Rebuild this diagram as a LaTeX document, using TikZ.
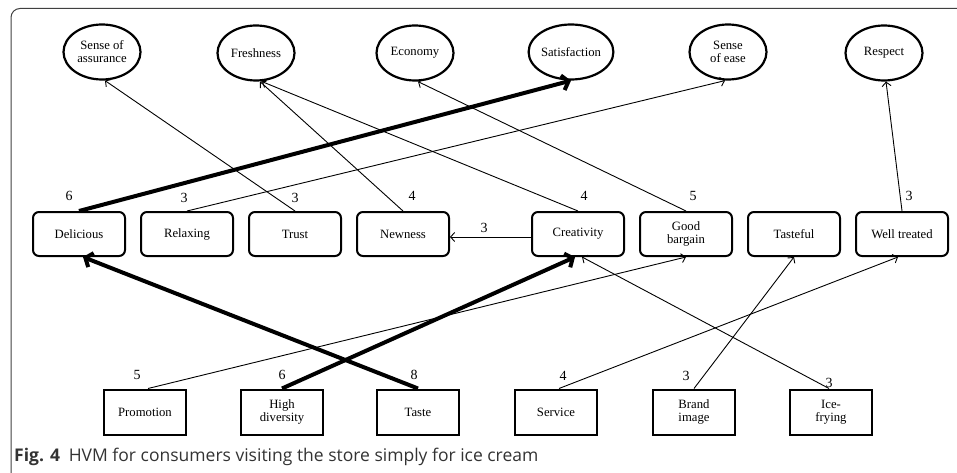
\documentclass[tikz,border=0pt]{standalone}
\usepackage{fontspec}
\setmainfont{Liberation Serif}
\newfontfamily\capfont{Open Sans}
\usepackage{tikz}
\usetikzlibrary{arrows.meta,shapes.geometric,positioning}

\begin{document}
\begin{tikzpicture}[
  x=1pt, y=-1pt,
  every node/.style = {align=center,
    font=\fontsize{12.7}{13}\selectfont},
  value/.style = {ellipse, draw, line width=2.2pt,
    minimum width=77pt, minimum height=55pt, inner sep=0pt},
  conseq/.style = {draw, rounded corners=6pt, line width=2pt,
    minimum width=92pt, minimum height=44pt, inner sep=0pt},
  attr/.style = {draw, line width=2pt,
    minimum width=82pt, minimum height=45pt, inner sep=0pt},
  link/.style = {-{Straight Barb[length=4pt,width=9pt]}, line width=0.9pt},
  strong/.style = {-{Straight Barb[length=6pt,width=15pt]}, line width=4pt},
  cnt/.style = {font=\fontsize{14}{14}\selectfont, inner sep=0pt}]
  \useasboundingbox (0,0) rectangle (957,473);

  % frame and caption
  \draw[black!75, line width=1pt, rounded corners=9pt]
    (957,8.5) -- (11,8.5) -- (11,473);
  \node[anchor=base west, inner sep=0pt, text=black!80,
    font=\capfont\fontsize{17.5}{17.5}\selectfont] (cap) at (14,461)
    {\textbf{Fig. 4}\enspace HVM for consumers visiting the store simply for ice cream};

  % values
  \node[value] (assur) at (102,52) {Sense of\\assurance};
  \node[value] (fresh) at (256,53) {Freshness};
  \node[value] (econ)  at (415,53) {Economy};
  \node[value] (satis) at (571,52) {Satisfaction};
  \node[value] (ease)  at (728,52) {Sense\\of ease};
  \node[value] (resp)  at (884,53) {Respect};

  % consequences
  \node[conseq] (del)  at (79,234)  {Delicious};
  \node[conseq] (relax) at (187,234) {Relaxing};
  \node[conseq] (trust) at (295,234) {Trust};
  \node[conseq] (new)  at (403,234) {Newness};
  \node[conseq] (cre)  at (578,234) {Creativity};
  \node[conseq] (barg) at (686,234) {Good\\bargain};
  \node[conseq] (tasty) at (794,234) {Tasteful};
  \node[conseq] (well) at (902,234) {Well treated};

  % attributes
  \node[attr] (promo) at (145,412) {Promotion};
  \node[attr] (div)   at (282,412) {High\\diversity};
  \node[attr] (taste) at (418,412) {Taste};
  \node[attr] (serv)  at (556,412) {Service};
  \node[attr] (brand) at (694,412) {Brand\\image};
  \node[attr] (ice)   at (831,412) {Ice-\\frying};

  % counts
  \node[cnt, above=10pt of del, xshift=-10pt] (n-del) {6};
  \node[cnt, above=8pt of relax, xshift=-3pt] (n-relax) {3};
  \node[cnt, above=8pt of trust] (n-trust) {3};
  \node[cnt, above=10pt of new, xshift=9pt] (n-new) {4};
  \node[cnt, above=10pt of cre, xshift=6pt] (n-cre) {4};
  \node[cnt, above=10pt of barg, xshift=7pt] (n-barg) {5};
  \node[cnt, above=10pt of well, xshift=7pt] (n-well) {3};
  \node[cnt, above=9pt of promo, xshift=-8pt] (n-promo) {5};
  \node[cnt, above=9pt of div] (n-div) {6};
  \node[cnt, above=9pt of taste, xshift=-4pt] (n-taste) {8};
  \node[cnt, above=8pt of serv, xshift=7pt] (n-serv) {4};
  \node[cnt, above=8pt of brand, xshift=-8pt] (n-brand) {3};
  \node[cnt, above=1pt of ice, xshift=-2pt] (n-ice) {3};

  % ladders
  \draw[strong] (del.north) -- (satis.south);
  \draw[link] (relax.north) -- ([xshift=-3pt]ease.south);
  \draw[link] (trust.north) -- ([xshift=3pt]assur.south);
  \draw[link] (new.north) -- ([xshift=4pt]fresh.south);
  \draw[link] (cre.north) -- ([xshift=6pt]fresh.south);
  \draw[link] (barg.north) -- ([xshift=3pt]econ.south);
  \draw[link] (well.north) -- ([xshift=2pt]resp.south);
  \draw[link] ([yshift=-3pt]cre.west) -- node[cnt, pos=0.58, above=4pt] (n-link) {3} ([yshift=-3pt]new.east);
  \draw[strong] (taste.north) -- ([xshift=4pt]del.south);
  \draw[strong] (div.north) -- ([xshift=-3pt]cre.south);
  \draw[link] ([xshift=3pt]promo.north) -- (barg.south);
  \draw[link] ([xshift=3pt]serv.north) -- ([xshift=-4pt]well.south);
  \draw[link] (brand.north) -- (tasty.south);
  \draw[link] ([xshift=-2pt]ice.north) -- ([xshift=4pt]cre.south);
\end{tikzpicture}
\end{document}
